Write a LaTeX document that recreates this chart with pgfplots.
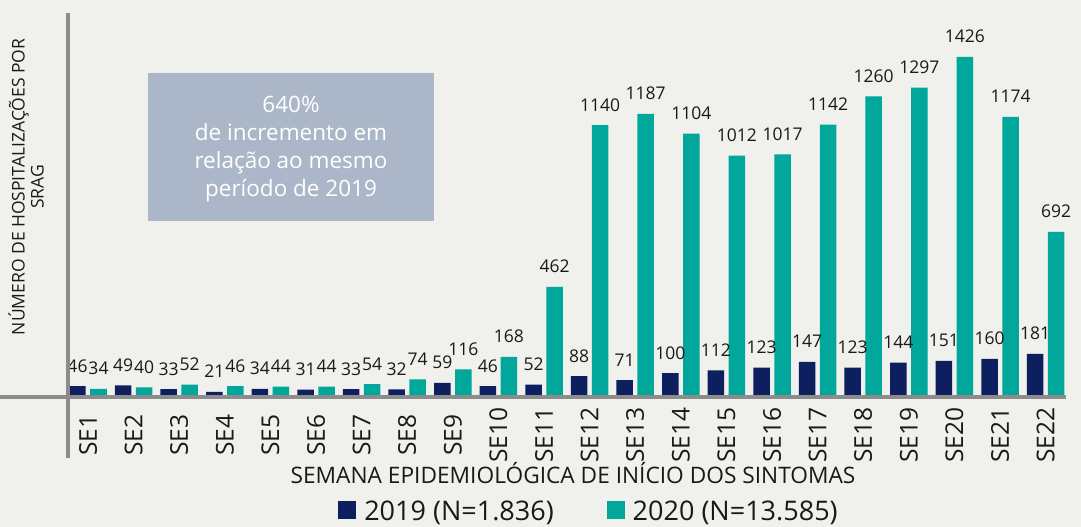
\documentclass[border=0pt]{standalone}
\usepackage{fontspec}
\setmainfont{Open Sans}
\usepackage{pgfplots}
\pgfplotsset{compat=1.18}
\definecolor{navy}{RGB}{13,31,95}
\definecolor{teal2}{RGB}{0,167,154}
\definecolor{bg}{RGB}{240,240,236}
\definecolor{boxc}{RGB}{171,183,201}
\definecolor{axg}{RGB}{140,140,140}
\definecolor{txt}{RGB}{25,25,25}
\begin{document}
\begin{tikzpicture}
\fill[bg] (-68pt,-130pt) rectangle (1013pt,397pt);
\fill[boxc] (80pt,176pt) rectangle (366pt,324pt);
\node[text=white, align=center, font=\fontsize{22.5}{28}\selectfont] at (223pt,248pt) {640\%\\de incremento em\\relação ao mesmo\\período de 2019};
\begin{axis}[
  at={(0pt,0pt)}, anchor=south west,
  scale only axis, width=998pt, height=384pt,
  xmin=-0.4386, xmax=21.447, ymin=0, ymax=1610,
  axis line style={draw=none},
  ytick=\empty,
  xtick={0,...,21},
  xticklabels={SE1,SE2,SE3,SE4,SE5,SE6,SE7,SE8,SE9,SE10,SE11,SE12,SE13,SE14,SE15,SE16,SE17,SE18,SE19,SE20,SE21,SE22},
  major tick length=0pt,
  xticklabel style={yshift=-38pt, rotate=90, anchor=center, font=\fontsize{24.5}{24.5}\selectfont, text=txt},
  xlabel={SEMANA EPIDEMIOLÓGICA DE INÍCIO DOS SINTOMAS},
  xlabel style={at={(axis description cs:0.506,-0.224)}, anchor=base, font=\fontsize{22.7}{22.7}\selectfont, text=txt},
  ylabel={NÚMERO DE HOSPITALIZAÇÕES POR\\SRAG},
  ylabel style={at={(axis description cs:-0.0421,0.547)}, anchor=center, align=center, font=\fontsize{17.5}{19}\selectfont, text=txt},
  ybar=4.5pt, bar width=16.5pt,
  clip=false,
  /pgf/number format/assume math mode=true,
  /pgf/number format/1000 sep={},
  nodes near coords,
  every node near coord/.append style={font=\fontsize{17.5}{17.5}\selectfont, anchor=base, yshift=14pt, inner sep=0pt, text=txt},
  legend style={draw=none, fill=none, legend columns=2,
    at={(axis description cs:0.521,-0.298)}, anchor=center,
    font=\fontsize{27}{27}\selectfont, text=txt,
    nodes={inner sep=0pt},
    /tikz/every odd column/.append style={column sep=8pt},
    /tikz/every even column/.append style={column sep=53pt}},
]
\addplot[fill=navy, draw=none, legend image code/.code={\fill[navy] (0pt,-8pt) rectangle (18pt,10pt);}] coordinates {
(0,46) (1,49) (2,33) (3,21) (4,34) (5,31) (6,33) (7,32) (8,59) (9,46) (10,52)
(11,88) (12,71) (13,100) (14,112) (15,123) (16,147) (17,123) (18,144) (19,151) (20,160) (21,181)};
\addplot[fill=teal2, draw=none, legend image code/.code={\fill[teal2] (0pt,-8pt) rectangle (18pt,10pt);}] coordinates {
(0,34) (1,40) (2,52) (3,46) (4,44) (5,44) (6,54) (7,74) (8,116) (9,168) (10,462)
(11,1140) (12,1187) (13,1104) (14,1012) (15,1017) (16,1142) (17,1260) (18,1297) (19,1426) (20,1174) (21,692)};
\legend{2019 (N=1.836), 2020 (N=13.585)}
\end{axis}
\draw[axg, line width=3.5pt] (0pt,384pt) -- (0pt,-61pt);
\draw[axg, line width=3.5pt] (-68pt,0pt) -- (998pt,0pt);
\pgfresetboundingbox
\path[use as bounding box] (-68pt,-130pt) rectangle (1013pt,397pt);
\end{tikzpicture}
\end{document}
